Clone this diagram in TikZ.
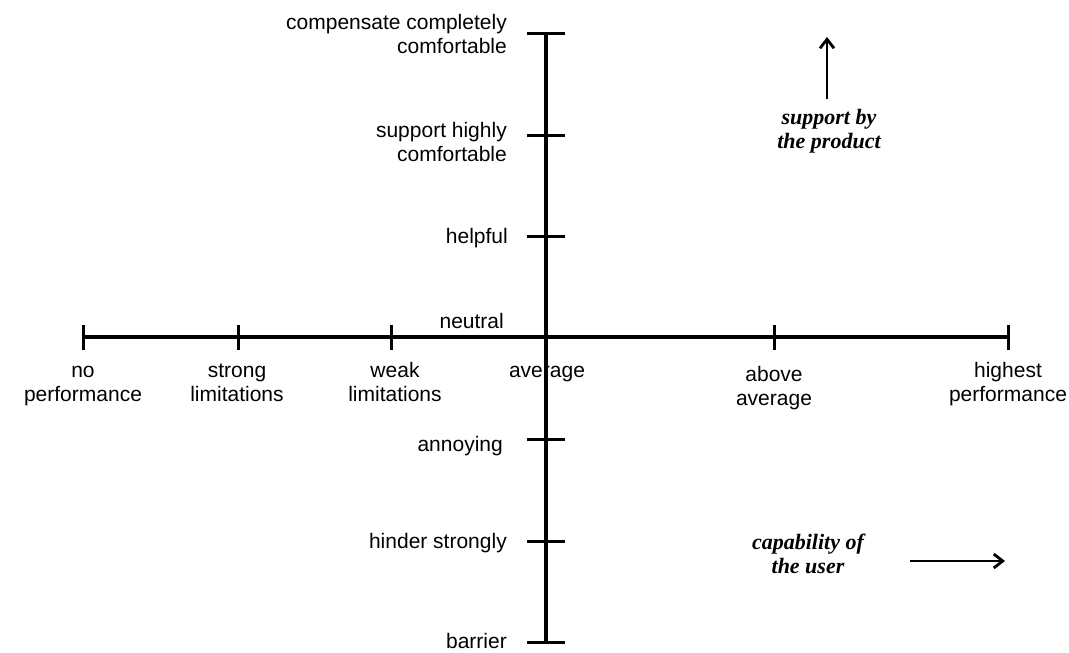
\documentclass[tikz,border=0pt]{standalone}
\usepackage{fontspec}
\setmainfont{Liberation Sans}
\newfontfamily\timesfont{Liberation Serif}
\usetikzlibrary{arrows.meta,positioning}

\tikzset{
  axisline/.style={line width=3.2pt},
  tickline/.style={line width=3pt},
  lbl/.style={font=\fontsize{21}{24}\selectfont,inner sep=0pt,align=center},
  vlbl/.style={lbl,align=right,anchor=east},
  hlbl/.style={lbl,anchor=base},
  hint/.style={font=\timesfont\bfseries\itshape\fontsize{22}{24}\selectfont,inner sep=0pt,align=center},
  dirarrow/.style={line width=2.8pt,-{Straight Barb[length=9pt,width=14pt]}}
}

\begin{document}
\begin{tikzpicture}[x=1pt,y=-1pt]
	\useasboundingbox (0,0) rectangle (1069,653);
	
	% axes
	\coordinate (xl) at (83,337);
	\coordinate (xr) at (1008,337);
	\coordinate (yt) at (546,33);
	\coordinate (yb) at (546,642);
	\draw[axisline] (xl) -- (xr);
	\draw[axisline] (yt) -- (yb);
	
	\foreach \x in {83,238,391,774,1008}
	\draw[tickline] (\x,325) -- (\x,350);
	\foreach \y in {33,135,236,439,541,642}
	\draw[tickline] (527,\y) -- (565,\y);
	
	% capability of the user (base = last line)
	\node[hlbl] (noperf)   at (83,401)   {no\\performance};
	\node[hlbl] (strong)   at (237,401)  {strong\\limitations};
	\node[hlbl] (weak)     at (395,401)  {weak\\limitations};
	\node[hlbl] (avg)      at (547,377)  {average};
	\node[hlbl] (aboveavg) at (774,405)  {above\\average};
	\node[hlbl] (highest)  at (1008,401) {highest\\performance};
	
	% support by the product
	\node[vlbl] (compensate) at (507,34)  {compensate completely\\comfortable};
	\node[vlbl] (suphigh)    at (507,142) {support highly\\comfortable};
	\node[vlbl] (helpful)    at (508,238) {helpful};
	\node[vlbl] (neutral)    at (504,321) {neutral};
	\node[vlbl] (annoying)   at (503,446) {annoying};
	\node[vlbl] (hinder)     at (507,543) {hinder strongly};
	\node[vlbl] (barrier)    at (507,641) {barrier};
	
	\node[hint] (supprod) at (829,131) {support by\\the product};
	\node[hint] (capuser) at (808,554) {capability of\\the user};
	
	\coordinate (uptip) at (827,37);
	\coordinate (righttip) at (1005,561);
	\draw[dirarrow] (827,99) -- (uptip);
	\draw[dirarrow] (910,561) -- (righttip);
\end{tikzpicture}
\end{document}
